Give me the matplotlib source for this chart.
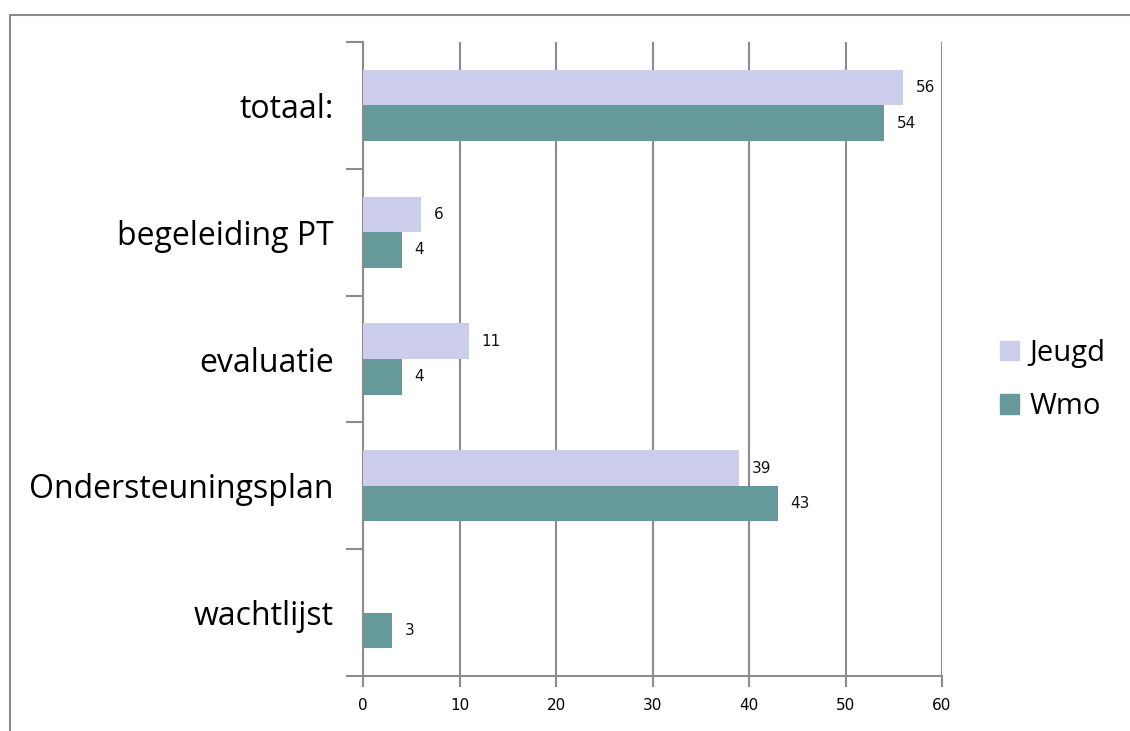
import matplotlib
matplotlib.use("Agg")
import matplotlib.pyplot as plt
from matplotlib.lines import Line2D
from matplotlib.patches import Patch

categories = ['totaal:', 'begeleiding PT', 'evaluatie', 'Ondersteuningsplan', 'wachtlijst']
jeugd = [56, 6, 11, 39, None]
wmo = [54, 4, 4, 43, 3]
xticks = [0, 10, 20, 30, 40, 50, 60]

c_jeugd = '#CCCCEB'
c_wmo = '#669999'
grid_c = '#8C8C8C'

W, H = 1130, 731
fig = plt.figure(figsize=(W / 100, H / 100), dpi=100)

# outer frame (only top and left visible)
fig.add_artist(Line2D([10 / W, 1.0], [1 - 15 / H, 1 - 15 / H], color='#8C8C8C', lw=1.5))
fig.add_artist(Line2D([10 / W, 10 / W], [0, 1 - 15 / H], color='#8C8C8C', lw=1.5))

left, right, top, bottom = 363, 942, 42, 676
ax = fig.add_axes([left / W, 1 - bottom / H, (right - left) / W, (bottom - top) / H])

n = len(categories)
bh = 0.28
for i in range(n):
    y = n - 1 - i
    if jeugd[i] is not None:
        ax.barh(y + bh / 2, jeugd[i], height=bh, color=c_jeugd, zorder=3)
        ax.text(jeugd[i] + 1.3, y + bh / 2, str(jeugd[i]), va='center', ha='left',
                fontsize=11, family='DejaVu Sans', color='#111111', zorder=4)
    ax.barh(y - bh / 2, wmo[i], height=bh, color=c_wmo, zorder=3)
    ax.text(wmo[i] + 1.3, y - bh / 2, str(wmo[i]), va='center', ha='left',
            fontsize=11, family='DejaVu Sans', color='#111111', zorder=4)

ax.set_xlim(0, 60)
ax.set_ylim(-0.5, n - 0.5)
ax.set_xticks(xticks)
ax.set_xticklabels([str(t) for t in xticks], fontsize=11, family='DejaVu Sans')
ax.set_yticks([k - 0.5 for k in range(n + 1)])
ax.set_yticklabels([])
ax.set_yticks(list(range(n)), minor=True)
ax.set_yticklabels(categories[::-1], minor=True, fontsize=23, family='Open Sans')
ax.tick_params(axis='y', which='minor', length=0, pad=21)
ax.tick_params(axis='y', which='major', length=12, color=grid_c, width=1.5)
ax.tick_params(axis='x', length=8, color=grid_c, width=1.5, pad=8)

ax.xaxis.grid(True, color=grid_c, lw=1.5, zorder=0)
for s in ['top', 'right']:
    ax.spines[s].set_visible(False)
for s in ['left', 'bottom']:
    ax.spines[s].set_color(grid_c)
    ax.spines[s].set_linewidth(1.5)

handles = [Patch(color=c_jeugd, label='Jeugd'), Patch(color=c_wmo, label='Wmo')]
fig.legend(handles=handles, loc='center left', bbox_to_anchor=(1000 / W, 1 - 380 / H),
           frameon=False, prop={'family': 'Open Sans', 'size': 21}, borderpad=0,
           borderaxespad=0, handlelength=0.65, handleheight=0.65, handletextpad=0.35,
           labelspacing=0.85)

fig.savefig('out.png', dpi=100)
